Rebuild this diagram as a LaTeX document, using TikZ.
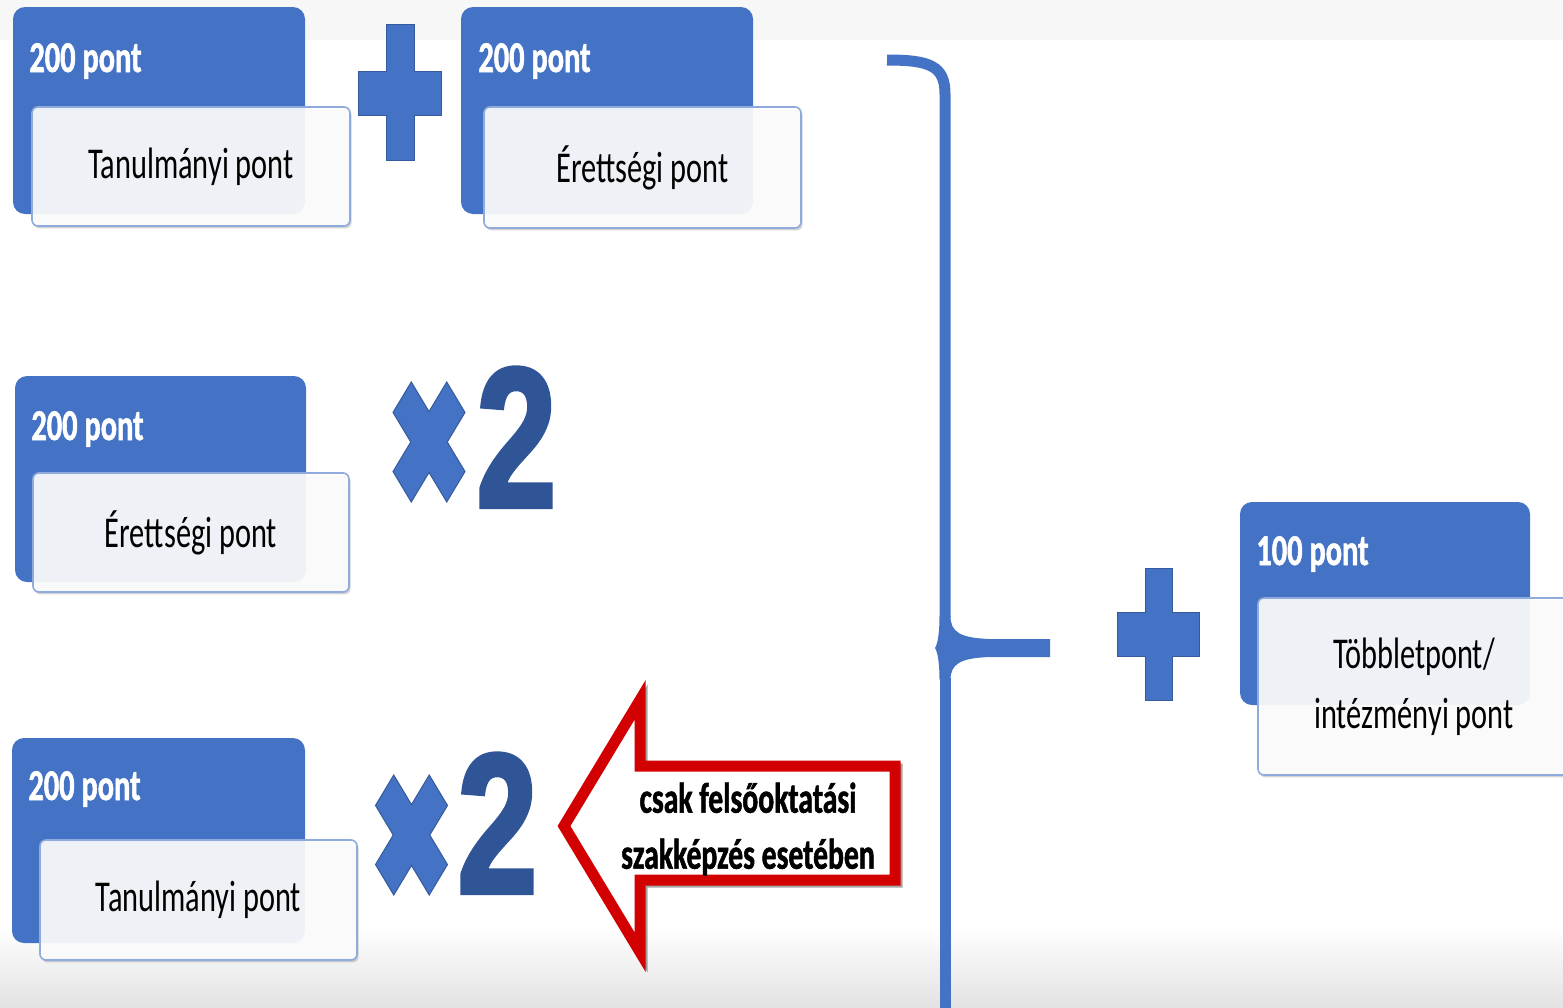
\documentclass[tikz,border=0pt]{standalone}
\usepackage{fontspec}
\setmainfont{Carlito}[FakeStretch=0.69, BoldFeatures={FakeBold=1.2}]
\newfontfamily\twofont{Liberation Sans}[FakeStretch=0.72,FakeBold=2]
\usetikzlibrary{shadows}
\definecolor{hblue}{HTML}{4472C4}
\definecolor{dblue}{HTML}{2F5597}
\definecolor{bordblue}{HTML}{8FAADC}
\definecolor{ared}{HTML}{D20000}
\tikzset{
  bluebox/.style={fill=hblue, draw=none, rounded corners=6pt, inner sep=0pt},
  whitebox/.style={fill=white, fill opacity=0.9, text opacity=1, draw=bordblue, line width=0.8pt,
    rounded corners=3pt, inner sep=0pt, align=center, font=\fontsize{22}{30}\selectfont,
    drop shadow={shadow xshift=0.8pt, shadow yshift=-1.2pt, opacity=0.35}},
  head/.style={anchor=base west, inner sep=0pt, text=white, font=\bfseries\fontsize{22}{25}\selectfont},
  plusshape/.style={fill=hblue, draw=hblue!80!black, line width=0.5pt},
  bigtwo/.style={anchor=base west, inner sep=0pt, text=dblue, font=\twofont\bfseries\fontsize{100}{100}\selectfont},
  braceline/.style={draw=hblue, line width=5.5pt},
  arrowtext/.style={align=center, inner sep=0pt, font=\bfseries\fontsize{21.5}{28}\selectfont},
}
\newcommand\timesshape[2]{%
  \begin{scope}[shift={(#1,#2)}, xscale=36, yscale=60]
    \filldraw[plusshape] (0,0.5074) -- (-0.4926,1) -- (-1,0.4926) -- (-0.5074,0) -- (-1,-0.4926) -- (-0.4926,-1)
      -- (0,-0.5074) -- (0.4926,-1) -- (1,-0.4926) -- (0.5074,0) -- (1,0.4926) -- (0.4926,1) -- cycle;
  \end{scope}}
\begin{document}
\begin{tikzpicture}[x=0.5pt,y=-0.5pt]
\useasboundingbox (0,0) rectangle (1563,1007);
% background
\fill[gray!6] (0,0) rectangle (1563,40);
\shade[top color=white, bottom color=gray!22] (0,925) rectangle (1563,1007);

% box 1
\node[bluebox, minimum width=146pt, minimum height=103.5pt] (b1) at (159,110.5) {};
\node[head] (h1) at (29,72) {200 pont};
\node[whitebox, minimum width=159pt, minimum height=59.5pt] (w1) at (191,166.5) {Tanulmányi pont};

% plus 1
\filldraw[plusshape] (386,24) -- (414,24) -- (414,71) -- (441,71) -- (441,115) -- (414,115) -- (414,160) -- (386,160) -- (386,115) -- (358,115) -- (358,71) -- (386,71) -- cycle;

% box 2
\node[bluebox, minimum width=146pt, minimum height=103.5pt] (b2) at (607,110.5) {};
\node[head] (h2) at (478,72) {200 pont};
\node[whitebox, minimum width=158.5pt, minimum height=60.5pt] (w2) at (642.5,167.5) {Érettségi pont};

% box 3
\node[bluebox, minimum width=145.5pt, minimum height=103pt] (b3) at (160.5,479) {};
\node[head] (h3) at (31,440) {200 pont};
\node[whitebox, minimum width=158pt, minimum height=59.5pt] (w3) at (191,532.5) {Érettségi pont};

% times 2 (first)
\timesshape{429}{442}
\node[bigtwo] (t1) at (476,507) {2};

% box 4
\node[bluebox, minimum width=146.5pt, minimum height=102.5pt] (b4) at (158.5,840.5) {};
\node[head] (h4) at (28,800) {200 pont};
\node[whitebox, minimum width=158.5pt, minimum height=60pt] (w4) at (198.5,900) {Tanulmányi pont};

% times 2 (second)
\timesshape{411.5}{835}
\node[bigtwo] (t2) at (457,893) {2};

% red arrow
\draw[black!70, opacity=0.5, line width=5pt, line join=miter, shift={(2.5,2.5)}]
  (564,826) -- (640,700) -- (640,766) -- (895,766) -- (895,880) -- (640,880) -- (640,952) -- cycle;
\filldraw[fill=white, draw=ared, line width=5.5pt, line join=miter]
  (564,826) -- (640,700) -- (640,766) -- (895,766) -- (895,880) -- (640,880) -- (640,952) -- cycle;
\node[arrowtext] (at) at (748,829) {csak felsőoktatási\\szakképzés esetében};

% brace
\draw[braceline, line cap=butt] (887,60) .. controls (930,60) and (945,66) .. (945,94) -- (945,617);
\draw[braceline, line cap=butt] (945,678) -- (945,1015);
\fill[hblue] (950.5,616) .. controls (950.5,632) and (960,638) .. (990,639) -- (1050,639) -- (1050,657)
  -- (990,657) .. controls (960,658) and (950.5,664) .. (950.5,680) -- (939.5,680)
  .. controls (939.5,660) and (937,651) .. (935,648) .. controls (937,645) and (939.5,636) .. (939.5,616) -- cycle;

% plus 2
\filldraw[plusshape] (1145,568) -- (1172,568) -- (1172,612) -- (1199,612) -- (1199,656) -- (1172,656) -- (1172,700) -- (1145,700) -- (1145,656) -- (1117,656) -- (1117,612) -- (1145,612) -- cycle;

% box 5
\node[bluebox, minimum width=145pt, minimum height=101.5pt] (b5) at (1385,603.5) {};
\node[head] (h5) at (1256,565) {100 pont};
\node[whitebox, minimum width=156pt, minimum height=88.5pt] (w5) at (1414,686.5) {Többletpont/\\intézményi pont};
\end{tikzpicture}
\end{document}
